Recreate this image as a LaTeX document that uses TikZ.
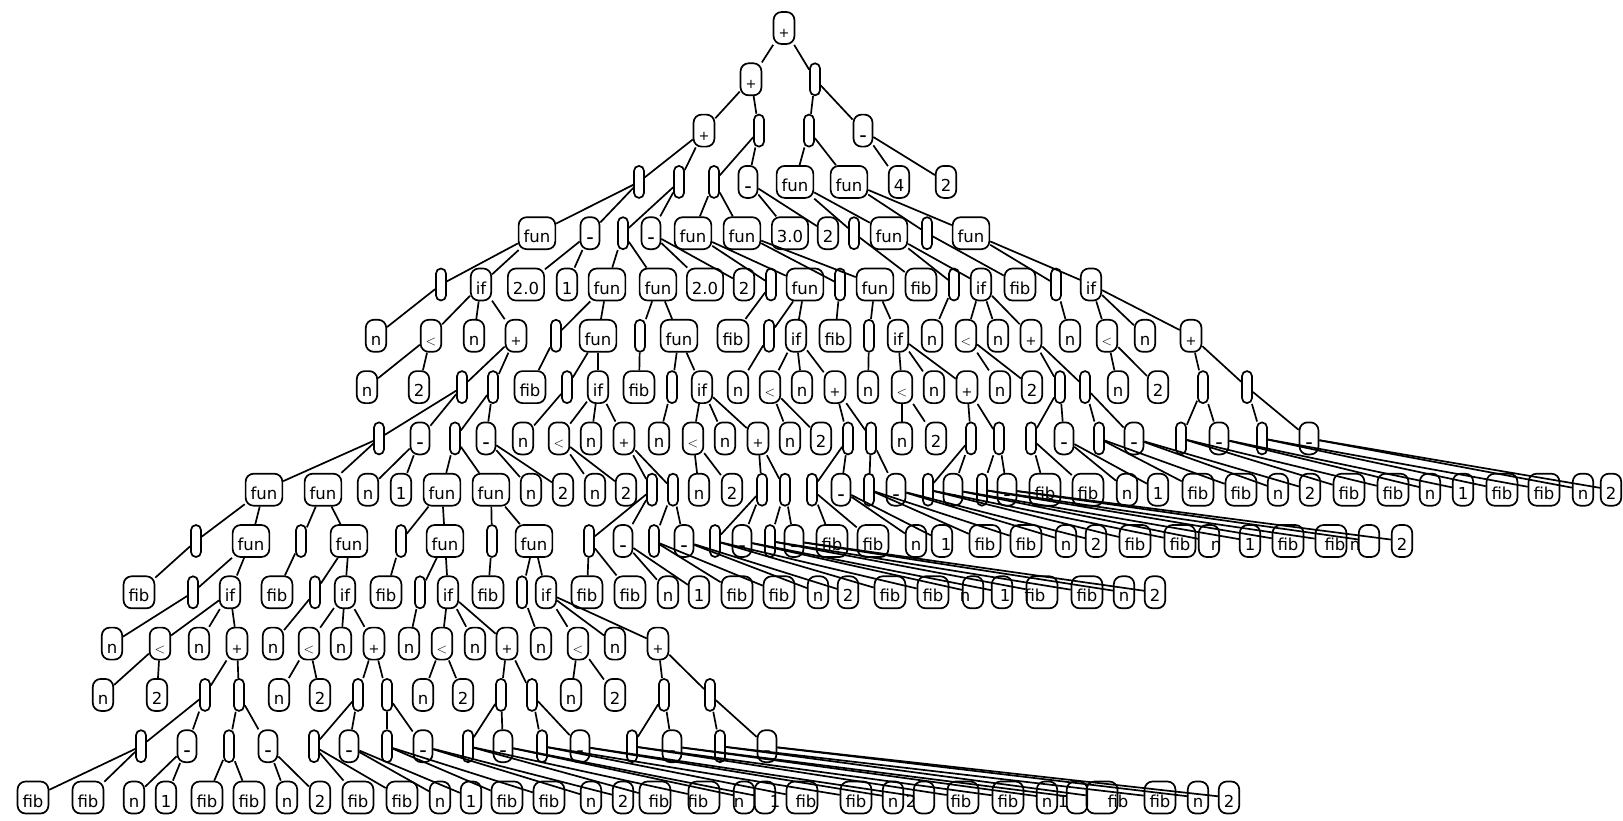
\documentclass[tikz,border=0pt]{standalone}
\usepackage{fontspec}
\newfontfamily\dv{DejaVu Sans}
\newcommand\PLlab{{\fontsize{13}{13}\selectfont +}}
\newcommand\LTlab{{\rmfamily\fontsize{14}{14}\selectfont <}}
\newcommand\MIlab{{\fontsize{14}{14}\selectfont\bfseries –}}
\newcommand\shiftlab[2]{\rlap{\hspace*{#1}#2}\phantom{#2}}
\tikzset{
  base/.style={draw, line width=1.7pt, inner ysep=0pt, minimum height=32pt,
    text height=19pt, text depth=0pt, font=\dv\fontsize{16.5}{18}\selectfont},
  bx/.style={base, rounded corners=8pt, inner xsep=5pt, minimum width=19pt},
  ov/.style={base, rounded corners=5pt, inner xsep=0pt, minimum width=10pt},
  edge/.style={line width=1.7pt},
}
\begin{document}
\begin{tikzpicture}[x=1pt,y=-1pt]
\fill[white] (0,0) rectangle (1623,820);
\useasboundingbox (0,0) rectangle (1623,820);
% row 0
\foreach \x/\s/\t in {784/bx/\PLlab}{\node[\s] (r0-\x) at (\x,28) {\t};}
% row 1
\foreach \x/\s/\t in {751/bx/\PLlab, 815/ov/{}}{\node[\s] (r1-\x) at (\x,79.3) {\t};}
% row 2
\foreach \x/\s/\t in {704/bx/\PLlab, 759/ov/{}, 809/ov/{}, 863/bx/\MIlab}{\node[\s] (r2-\x) at (\x,130.6) {\t};}
% row 3
\foreach \x/\s/\t in {639/ov/{}, 679/ov/{}, 714/ov/{}, 748/bx/\MIlab, 795/bx/fun, 849/bx/fun, 899/bx/4, 946/bx/2}{\node[\s] (r3-\x) at (\x,181.9) {\t};}
% row 4
\foreach \x/\s/\t in {537/bx/fun, 590/bx/\MIlab, 623/ov/{}, 651/bx/\MIlab, 693/bx/fun, 742/bx/fun, 790/bx/3.0, 828/bx/2, 854/ov/{}, 889/bx/fun, 927/ov/{}, 971/bx/fun}{\node[\s] (r4-\x) at (\x,233.2) {\t};}
% row 5
\foreach \x/\s/\t in {441/ov/{}, 481/bx/if, 526/bx/2.0, 567/bx/1, 607/bx/fun, 658/bx/fun, 705/bx/2.0, 744/bx/2, 771/ov/{}, 805/bx/fun, 840/ov/{}, 875/bx/fun, 921/bx/fib, 954/ov/{}, 981/bx/if, 1020/bx/fib, 1056/ov/{}, 1091/bx/if}{\node[\s] (r5-\x) at (\x,284.5) {\t};}
% row 6
\foreach \x/\s/\t in {376/bx/n, 431/bx/\LTlab, 474/bx/n, 516/bx/\PLlab, 556/ov/{}, 598/bx/fun, 640/ov/{}, 679/bx/fun, 733/bx/fib, 769/ov/{}, 796/bx/if, 835/bx/fib, 869/ov/{}, 898/bx/if, 932/bx/n, 966/bx/\LTlab, 998/bx/n, 1031/bx/\PLlab, 1070/bx/n, 1107/bx/\LTlab, 1145/bx/n, 1191/bx/\PLlab}{\node[\s] (r6-\x) at (\x,335.8) {\t};}
% row 7
\foreach \x/\s/\t in {367/bx/n, 419/bx/2, 462/ov/{}, 493/ov/{}, 530/bx/fib, 567/ov/{}, 598/bx/if, 639/bx/fib, 672/ov/{}, 702/bx/if, 738/bx/n, 770/bx/\LTlab, 802/bx/n, 835/bx/\PLlab, 868/bx/n, 902/bx/\LTlab, 934/bx/n, 967/bx/\PLlab, 1000/bx/n, 1032/bx/2, 1060/ov/{}, 1085/ov/{}, 1118/bx/n, 1158/bx/2, 1203/ov/{}, 1247/ov/{}}{\node[\s] (r7-\x) at (\x,387.1) {\t};}
% row 8
\foreach \x/\s/\t in {379/ov/{}, 420/bx/\MIlab, 455/ov/{}, 486/bx/\MIlab, 523/bx/n, 559/bx/\LTlab, 591/bx/n, 624/bx/\PLlab, 659/bx/n, 693/bx/\LTlab, 725/bx/n, 758/bx/\PLlab, 790/bx/n, 821/bx/2, 848/ov/{}, 871/ov/{}, 902/bx/n, 936/bx/2, 971/ov/{}, 999/ov/{}, 1031/ov/{}, 1064/bx/\MIlab, 1099/ov/{}, 1134/bx/\MIlab, 1181/ov/{}, 1219/bx/\MIlab, 1262/ov/{}, 1309/bx/\MIlab}{\node[\s] (r8-\x) at (\x,438.4) {\t};}
% row 9
\foreach \x/\s/\t in {264/bx/fun, 323/bx/fun, 368/bx/n, 401/bx/1, 442/bx/fun, 491/bx/fun, 531/bx/n, 563/bx/2, 595/bx/n, 626/bx/2, 652/ov/{}, 673/ov/{}, 699/bx/n, 732/bx/2, 762/ov/{}, 785/ov/{}, 812/ov/{}, 841/bx/\MIlab, 869/ov/{}, 896/bx/\MIlab, 928/ov/{}, 953/bx/\MIlab, 982/ov/{}, 1007/bx/\MIlab, 1045/bx/fib, 1088/bx/fib, 1127/bx/n, 1158/bx/1, 1198/bx/fib, 1241/bx/fib, 1278/bx/n, 1310/bx/2, 1349/bx/fib, 1393/bx/fib, 1430/bx/n, 1463/bx/1, 1502/bx/fib, 1544/bx/fib, 1583/bx/n, 1611/bx/2}{\node[\s] (r9-\x) at (\x,489.7) {\t};}
% row 10
\foreach \x/\s/\t in {196/ov/{}, 251/bx/fun, 301/ov/{}, 349/bx/fun, 401/ov/{}, 445/bx/fun, 492/ov/{}, 534/bx/fun, 589/ov/{}, 623/bx/\MIlab, 654/ov/{}, 684/bx/\MIlab, 715/ov/{}, 742/bx/\MIlab, 770/ov/{}, 794/bx/\MIlab, 832/bx/fib, 873/bx/fib, 916/bx/n, 942/bx/{\shiftlab{4pt}{1}}, 985/bx/fib, 1026/bx/fib, 1066/bx/n, 1096/bx/2, 1135/bx/fib, 1180/bx/fib, 1209/bx/{\shiftlab{7pt}{n}}, 1250/bx/1, 1288/bx/fib, 1331/bx/{\shiftlab{4pt}{fib}}, 1369/bx/{\shiftlab{-14pt}{n}}, 1402/bx/2}{\node[\s] (r10-\x) at (\x,541) {\t};}
% row 11
\foreach \x/\s/\t in {139/bx/fib, 193/ov/{}, 230/bx/if, 277/bx/fib, 315/ov/{}, 345/bx/if, 386/bx/fib, 420/ov/{}, 448/bx/if, 488/bx/fib, 522/ov/{}, 546/bx/if, 587/bx/fib, 630/bx/fib, 668/bx/n, 699/bx/1, 737/bx/fib, 779/bx/fib, 818/bx/n, 848/bx/2, 890/bx/fib, 933/bx/fib, 973/bx/{\shiftlab{-8pt}{n}}, 1002/bx/{\shiftlab{3pt}{1}}, 1042/bx/{\shiftlab{-7pt}{fib}}, 1087/bx/fib, 1124/bx/n, 1155/bx/2}{\node[\s] (r11-\x) at (\x,592.3) {\t};}
% row 12
\foreach \x/\s/\t in {112/bx/n, 160/bx/\LTlab, 199/bx/n, 237/bx/\PLlab, 273/bx/n, 309/bx/\LTlab, 341/bx/n, 374/bx/\PLlab, 409/bx/n, 442/bx/\LTlab, 475/bx/n, 507/bx/\PLlab, 541/bx/n, 578/bx/\LTlab, 615/bx/n, 658/bx/\PLlab}{\node[\s] (r12-\x) at (\x,643.6) {\t};}
% row 13
\foreach \x/\s/\t in {103/bx/n, 157/bx/2, 205/ov/{}, 239/ov/{}, 279/bx/n, 320/bx/2, 358/ov/{}, 387/ov/{}, 423/bx/n, 463/bx/2, 501/ov/{}, 532/ov/{}, 571/bx/n, 615/bx/2, 664/ov/{}, 710/ov/{}}{\node[\s] (r13-\x) at (\x,694.9) {\t};}
% row 14
\foreach \x/\s/\t in {141/ov/{}, 187/bx/\MIlab, 229/ov/{}, 268/bx/\MIlab, 314/ov/{}, 349/bx/\MIlab, 387/ov/{}, 423/bx/\MIlab, 468/ov/{}, 503/bx/\MIlab, 542/ov/{}, 580/bx/\MIlab, 632/ov/{}, 672/bx/\MIlab, 720/ov/{}, 767/bx/\MIlab}{\node[\s] (r14-\x) at (\x,746.2) {\t};}
% row 15
\foreach \x/\s/\t in {33/bx/fib, 88/bx/fib, 134/bx/n, 166/bx/1, 207/bx/fib, 249/bx/fib, 287/bx/n, 320/bx/2, 358/bx/fib, 402/bx/fib, 440/bx/n, 471/bx/1, 507/bx/fib, 549/bx/fib, 591/bx/n, 623/bx/2, 655/bx/{\shiftlab{4pt}{fib}}, 704/bx/{\shiftlab{-6pt}{fib}}, 744/bx/{\shiftlab{-5pt}{n}}, 765/bx/{\shiftlab{10pt}{1}}, 802/bx/{\shiftlab{4pt}{fib}}, 856/bx/fib, 893/bx/n, 924/bx/{\shiftlab{-13pt}{2}}, 963/bx/{\shiftlab{-2pt}{fib}}, 1008/bx/fib, 1047/bx/n, 1077/bx/{\shiftlab{-14pt}{1}}, 1102/bx/{\shiftlab{16pt}{fib}}, 1160/bx/fib, 1198/bx/n, 1229/bx/2}{\node[\s] (r15-\x) at (\x,797.5) {\t};}
% edges
\foreach \r/\p/\cs in {
 0/784/{751,815}, 1/751/{704,759}, 1/815/{809,863},
 2/704/{639,679}, 2/759/{714,748}, 2/809/{795,849}, 2/863/{899,946},
 3/639/{537,590}, 3/679/{623,651}, 3/714/{693,742}, 3/748/{790,828}, 3/795/{854,889}, 3/849/{927,971},
 4/537/{441,481}, 4/590/{526,567}, 4/623/{607,658}, 4/651/{705,744}, 4/693/{771,805}, 4/742/{840,875}, 4/854/{921}, 4/889/{954,981}, 4/927/{1020}, 4/971/{1056,1091},
 5/441/{376}, 5/481/{431,474,516}, 5/607/{556,598}, 5/658/{640,679}, 5/771/{733}, 5/805/{769,796}, 5/840/{835}, 5/875/{869,898}, 5/954/{932}, 5/981/{966,998,1031}, 5/1056/{1070}, 5/1091/{1107,1145,1191},
 6/431/{367,419}, 6/516/{462,493}, 6/556/{530}, 6/598/{567,598}, 6/640/{639}, 6/679/{672,702}, 6/769/{738}, 6/796/{770,802,835}, 6/869/{868}, 6/898/{902,934,967}, 6/966/{1000,1032}, 6/1031/{1060,1085}, 6/1107/{1118,1158}, 6/1191/{1203,1247},
 7/462/{379,420}, 7/493/{455,486}, 7/567/{523}, 7/598/{559,591,624}, 7/672/{659}, 7/702/{693,725,758}, 7/770/{790,821}, 7/835/{848,871}, 7/902/{902,936}, 7/967/{971,999}, 7/1060/{1031,1064}, 7/1085/{1099,1134}, 7/1203/{1181,1219}, 7/1247/{1262,1309},
 8/379/{264,323}, 8/420/{368,401}, 8/455/{442,491}, 8/486/{531,563}, 8/559/{595,626}, 8/624/{652,673}, 8/693/{699,732}, 8/758/{762,785}, 8/848/{812,841}, 8/871/{869,896}, 8/971/{928,953}, 8/999/{982,1007}, 8/1031/{1045,1088}, 8/1064/{1127,1158}, 8/1099/{1198,1241}, 8/1134/{1278,1310}, 8/1181/{1349,1393}, 8/1219/{1430,1463}, 8/1262/{1502,1544}, 8/1309/{1583,1611},
 9/264/{196,251}, 9/323/{301,349}, 9/442/{401,445}, 9/491/{492,534}, 9/652/{589,623}, 9/673/{654,684}, 9/762/{715,742}, 9/785/{770,794}, 9/812/{832,873}, 9/841/{916,942}, 9/869/{985,1026}, 9/896/{1066,1096}, 9/928/{1135,1180}, 9/953/{1209,1250}, 9/982/{1288,1331}, 9/1007/{1369,1402},
 10/196/{139}, 10/251/{193,230}, 10/301/{277}, 10/349/{315,345}, 10/401/{386}, 10/445/{420,448}, 10/492/{488}, 10/534/{522,546}, 10/589/{587,630}, 10/623/{668,699}, 10/654/{737,779}, 10/684/{818,848}, 10/715/{890,933}, 10/742/{973,1002}, 10/770/{1042,1087}, 10/794/{1124,1155},
 11/193/{112}, 11/230/{160,199,237}, 11/315/{273}, 11/345/{309,341,374}, 11/420/{409}, 11/448/{442,475,507}, 11/522/{541}, 11/546/{578,615,658},
 12/160/{103,157}, 12/237/{205,239}, 12/309/{279,320}, 12/374/{358,387}, 12/442/{423,463}, 12/507/{501,532}, 12/578/{571,615}, 12/658/{664,710},
 13/205/{141,187}, 13/239/{229,268}, 13/358/{314,349}, 13/387/{387,423}, 13/501/{468,503}, 13/532/{542,580}, 13/664/{632,672}, 13/710/{720,767},
 14/141/{33,88}, 14/187/{134,166}, 14/229/{207,249}, 14/268/{287,320}, 14/314/{358,402}, 14/349/{440,471}, 14/387/{507,549}, 14/423/{591,623}, 14/468/{655,704}, 14/503/{744,765}, 14/542/{802,856}, 14/580/{893,924}, 14/632/{963,1008}, 14/672/{1047,1077}, 14/720/{1102,1160}, 14/767/{1198,1229}}{
  \pgfmathtruncatemacro\rr{\r+1}
  \foreach \c in \cs {\draw[edge] (r\r-\p) -- (r\rr-\c);}
}
\end{tikzpicture}
\end{document}
